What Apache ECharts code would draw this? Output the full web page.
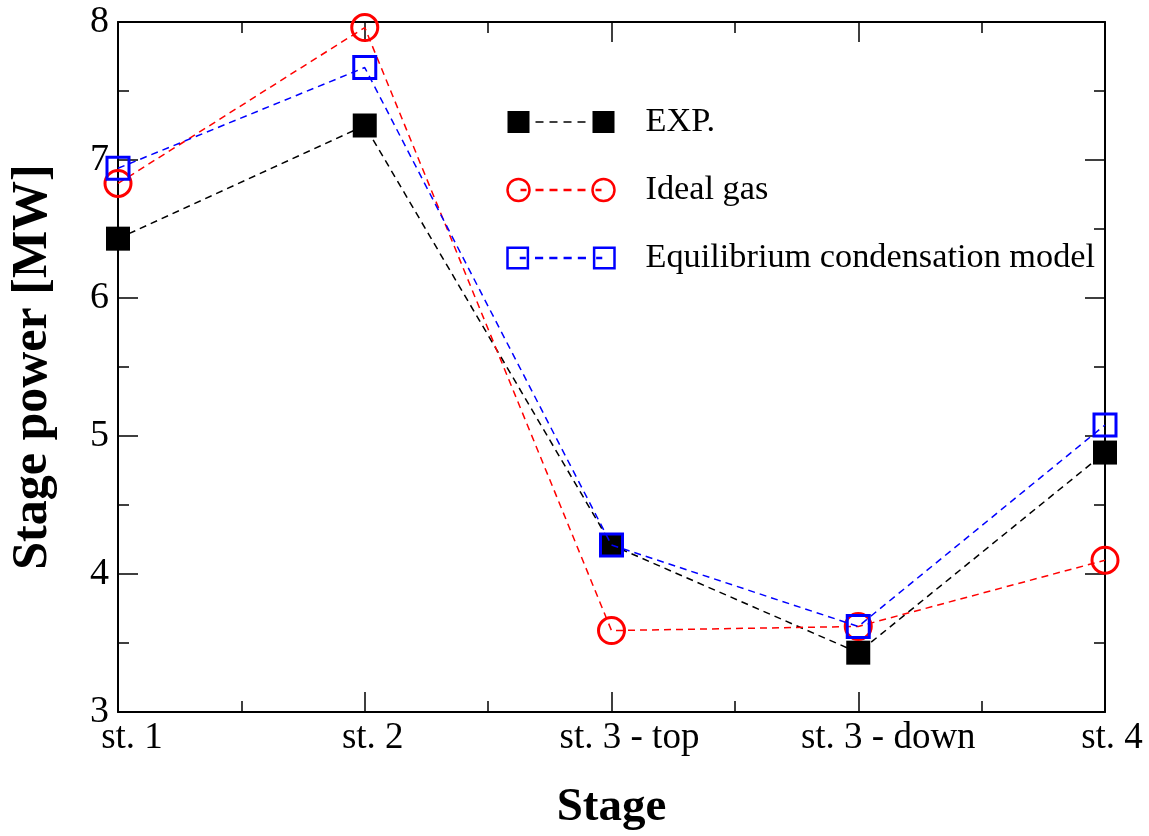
<!DOCTYPE html>
<html>
<head>
<meta charset="utf-8">
<script src="https://cdn.jsdelivr.net/npm/echarts@6/dist/echarts.min.js"></script>
<style>
  html, body { margin: 0; padding: 0; background: #fff; }
  #chart { width: 1149px; height: 836px; }
</style>
</head>
<body>
<div id="chart"></div>
<script>
const categories = ['st. 1', 'st. 2', 'st. 3 - top', 'st. 3 - down', 'st. 4']
const expValues = [6.43, 7.25, 4.21, 3.43, 4.88]
const idealGasValues = [6.83, 7.96, 3.59, 3.62, 4.10]
const equilibriumValues = [6.94, 7.67, 4.21, 3.62, 5.08]
const yTicks = [3, 4, 5, 6, 7, 8]

const font = 'Liberation Serif'

// pairs category index with the value, x axis is numeric so it can have minor ticks
function toPoints(values) {
  return values.map((v, i) => [i, v])
}

// the original labels sit a little right of their ticks
const labelShift = [14, 8, 18, 30, 7]
const labelRich = {}
labelShift.forEach((s, i) => {
  labelRich['s' + i] = { fontFamily: font, fontSize: 37, color: '#000', padding: [0, 0, 0, s * 2] }
})

// legend icons look like "symbol - - - - symbol"
const dashFill = [28, 42, 56, 70].map(x => `M${x} 10.2L${x + 8} 10.2L${x + 8} 11.8L${x} 11.8Z`).join('')
const dashLine = [28, 42, 56, 70].map(x => `M${x} 11L${x + 8} 11`).join('')
const iconSquareFilled = 'path://M0 0L22 0L22 22L0 22Z' + dashFill + 'M85 0L107 0L107 22L85 22Z'
const iconCircle = 'path://M0 11A11 11 0 1 1 22 11A11 11 0 1 1 0 11Z' + dashLine +
  'M85 11A11 11 0 1 1 107 11A11 11 0 1 1 85 11Z' + 'M13 11L19 11M88 11L94 11'
const iconSquareEmpty = 'path://M1 1L21 1L21 21L1 21Z' + dashLine + 'M86 1L106 1L106 21L86 21Z' + 'M13 11L19 11M88 11L94 11'

const chart = echarts.init(document.getElementById('chart'))

const tickAxis = {
  axisLine: { show: true, onZero: false, lineStyle: { color: '#000', width: 2 } },
  axisTick: { show: true, inside: true, length: 20, lineStyle: { color: '#000', width: 1.5 } },
  minorTick: { show: true, splitNumber: 2, length: 11, lineStyle: { color: '#000', width: 1.5 } },
  splitLine: { show: false }
}

chart.setOption({
  animation: false,
  textStyle: { fontFamily: font },
  grid: { left: 117, right: 44, top: 22, bottom: 124 },
  legend: {
    orient: 'vertical',
    left: 505,
    top: 105,
    padding: 0,
    itemWidth: 107,
    itemHeight: 22,
    itemGap: 34,
    textStyle: { fontFamily: font, fontSize: 34.3, lineHeight: 34, color: '#000', padding: [0, 0, 0, 26] },
    data: [
      { name: 'EXP.', icon: iconSquareFilled, itemStyle: { color: '#000', borderWidth: 0 } },
      { name: 'Ideal gas', icon: iconCircle, itemStyle: { color: 'none', borderColor: '#ff0000', borderWidth: 2.5 } },
      { name: 'Equilibrium condensation model', icon: iconSquareEmpty, itemStyle: { color: 'none', borderColor: '#0000ff', borderWidth: 2.5 } }
    ]
  },
  xAxis: [{
    type: 'value',
    min: 0,
    max: categories.length - 1,
    interval: 1,
    name: 'Stage',
    nameLocation: 'middle',
    nameGap: 72,
    nameTextStyle: { fontFamily: font, fontSize: 47, fontWeight: 'bold', color: '#000' },
    axisLabel: {
      margin: 8,
      fontFamily: font,
      fontSize: 37,
      color: '#000',
      formatter: v => categories[v] ? `{s${v}|${categories[v]}}` : '',
      rich: labelRich
    },
    ...tickAxis
  }, {
    type: 'value',
    position: 'top',
    min: 0,
    max: categories.length - 1,
    interval: 1,
    axisLabel: { show: false },
    ...tickAxis
  }],
  yAxis: [{
    type: 'value',
    min: yTicks[0],
    max: yTicks[yTicks.length - 1],
    interval: 1,
    name: 'Stage power [MW]',
    nameLocation: 'middle',
    nameGap: 60,
    nameTextStyle: { fontFamily: font, fontSize: 50, fontWeight: 'bold', color: '#000' },
    axisLabel: { margin: 9, fontFamily: font, fontSize: 38, color: '#000' },
    ...tickAxis
  }, {
    type: 'value',
    position: 'right',
    min: yTicks[0],
    max: yTicks[yTicks.length - 1],
    interval: 1,
    axisLabel: { show: false },
    ...tickAxis
  }],
  series: [{
    name: 'EXP.',
    type: 'line',
    data: toPoints(expValues),
    symbol: 'rect',
    symbolSize: 24,
    itemStyle: { color: '#000' },
    lineStyle: { color: '#000', width: 1.5, type: [7, 5] },
    z: 2
  }, {
    name: 'Ideal gas',
    type: 'line',
    data: toPoints(idealGasValues),
    symbol: 'circle',
    symbolSize: 26,
    itemStyle: { color: 'none', borderColor: '#ff0000', borderWidth: 3 },
    lineStyle: { color: '#ff0000', width: 1.5, type: [7, 5] },
    z: 3
  }, {
    name: 'Equilibrium condensation model',
    type: 'line',
    data: toPoints(equilibriumValues),
    symbol: 'rect',
    symbolSize: 22,
    itemStyle: { color: 'none', borderColor: '#0000ff', borderWidth: 3 },
    lineStyle: { color: '#0000ff', width: 1.5, type: [7, 5] },
    z: 4
  }]
})
</script>
</body>
</html>
